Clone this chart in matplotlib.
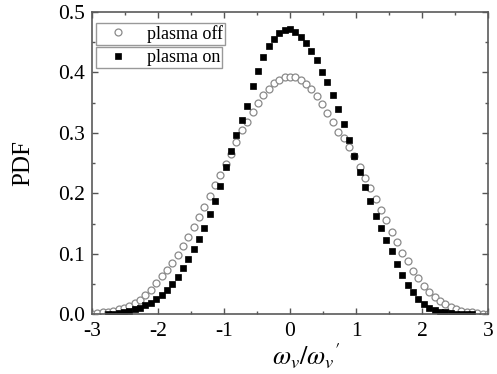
import numpy as np
import matplotlib
matplotlib.use('Agg')
import matplotlib.pyplot as plt
from matplotlib.ticker import MultipleLocator, FormatStrFormatter

plt.rcParams['font.family'] = ['Liberation Serif', 'DejaVu Serif']
plt.rcParams['mathtext.fontset'] = 'stix'

# x positions of the bins (75 bins over -3..3)
x = np.linspace(-3, 3, 75)

# PDF, plasma off (open circles)
pdf_off = [0.001, 0.002, 0.003, 0.004, 0.005, 0.008, 0.010, 0.014, 0.018, 0.024,
           0.031, 0.040, 0.051, 0.063, 0.073, 0.085, 0.098, 0.112, 0.127, 0.145,
           0.161, 0.177, 0.195, 0.213, 0.230, 0.248, 0.265, 0.285, 0.305, 0.318,
           0.334, 0.349, 0.362, 0.373, 0.382, 0.388, 0.392, 0.393, 0.392, 0.388,
           0.381, 0.372, 0.361, 0.348, 0.333, 0.318, 0.302, 0.291, 0.277, 0.261,
           0.243, 0.226, 0.208, 0.191, 0.172, 0.155, 0.136, 0.120, 0.101, 0.088,
           0.072, 0.060, 0.047, 0.036, 0.029, 0.022, 0.016, 0.012, 0.009, 0.006,
           0.004, 0.003, 0.002, 0.001, 0.001]

# PDF, plasma on (filled squares); nan where no marker is drawn
pdf_on = [np.nan, np.nan, np.nan, 0.001, 0.001, 0.002, 0.003, 0.005, 0.008, 0.011,
          0.015, 0.019, 0.025, 0.032, 0.040, 0.050, 0.062, 0.076, 0.092, 0.108,
          0.125, 0.143, 0.165, 0.187, 0.212, 0.243, 0.270, 0.297, 0.322, 0.345,
          0.377, 0.402, 0.425, 0.443, 0.456, 0.465, 0.470, 0.471, 0.467, 0.459,
          0.448, 0.435, 0.420, 0.401, 0.384, 0.363, 0.340, 0.314, 0.288, 0.262,
          0.236, 0.211, 0.187, 0.163, 0.142, 0.122, 0.104, 0.083, 0.065, 0.049,
          0.036, 0.025, 0.017, 0.011, 0.007, 0.004, 0.003, 0.002, 0.001, 0.001,
          0.000, 0.000, np.nan, np.nan, np.nan]

fig = plt.figure(figsize=(4.97, 3.74), dpi=100)
ax = fig.add_axes([0.185, 0.160, 0.797, 0.808])

l_off, = ax.plot(x, pdf_off, 'o', ms=5.0, mfc='white', mec='#8a8a8a', mew=0.9,
                 linestyle='none', label='plasma off')
l_on, = ax.plot(x, pdf_on, 's', ms=4.4, mfc='black', mec='black', mew=0.5,
                linestyle='none', label='plasma on')

ax.set_xlim(-3, 3)
ax.set_ylim(0, 0.5)
ax.xaxis.set_major_locator(MultipleLocator(1))
ax.xaxis.set_minor_locator(MultipleLocator(0.5))
ax.yaxis.set_major_locator(MultipleLocator(0.1))
ax.yaxis.set_minor_locator(MultipleLocator(0.05))
ax.xaxis.set_major_formatter(FormatStrFormatter('%d'))
ax.yaxis.set_major_formatter(FormatStrFormatter('%.1f'))

ax.tick_params(which='both', direction='in', top=True, right=True,
               labelsize=15.5, color='#555555', width=1.0)
ax.tick_params(axis='x', pad=6)
ax.tick_params(axis='y', pad=5)
ax.tick_params(which='major', length=4.5)
ax.tick_params(which='minor', length=2.5)
for s in ax.spines.values():
    s.set_color('#5a5a5a')
    s.set_linewidth(1.2)

ax.set_ylabel('PDF', fontsize=18)
ax.yaxis.set_label_coords(-0.145, 0.5)
ax.set_xlabel(r"$\omega_v/\omega_v{}'$", fontsize=19, labelpad=0)
ax.xaxis.set_label_coords(0.54, -0.09)

leg_kw = dict(loc='upper left', fontsize=13, frameon=True, fancybox=False,
              framealpha=1, edgecolor='#999999', borderpad=0.12,
              handlelength=2.2, handletextpad=0.5, borderaxespad=0)
leg1 = ax.legend(handles=[l_off], bbox_to_anchor=(0.01, 0.965), **leg_kw)
leg1.get_frame().set_linewidth(1.0)
ax.add_artist(leg1)
leg2 = ax.legend(handles=[l_on], bbox_to_anchor=(0.01, 0.885), **leg_kw)
leg2.get_frame().set_linewidth(1.0)

fig.savefig('out.png', dpi=100)
